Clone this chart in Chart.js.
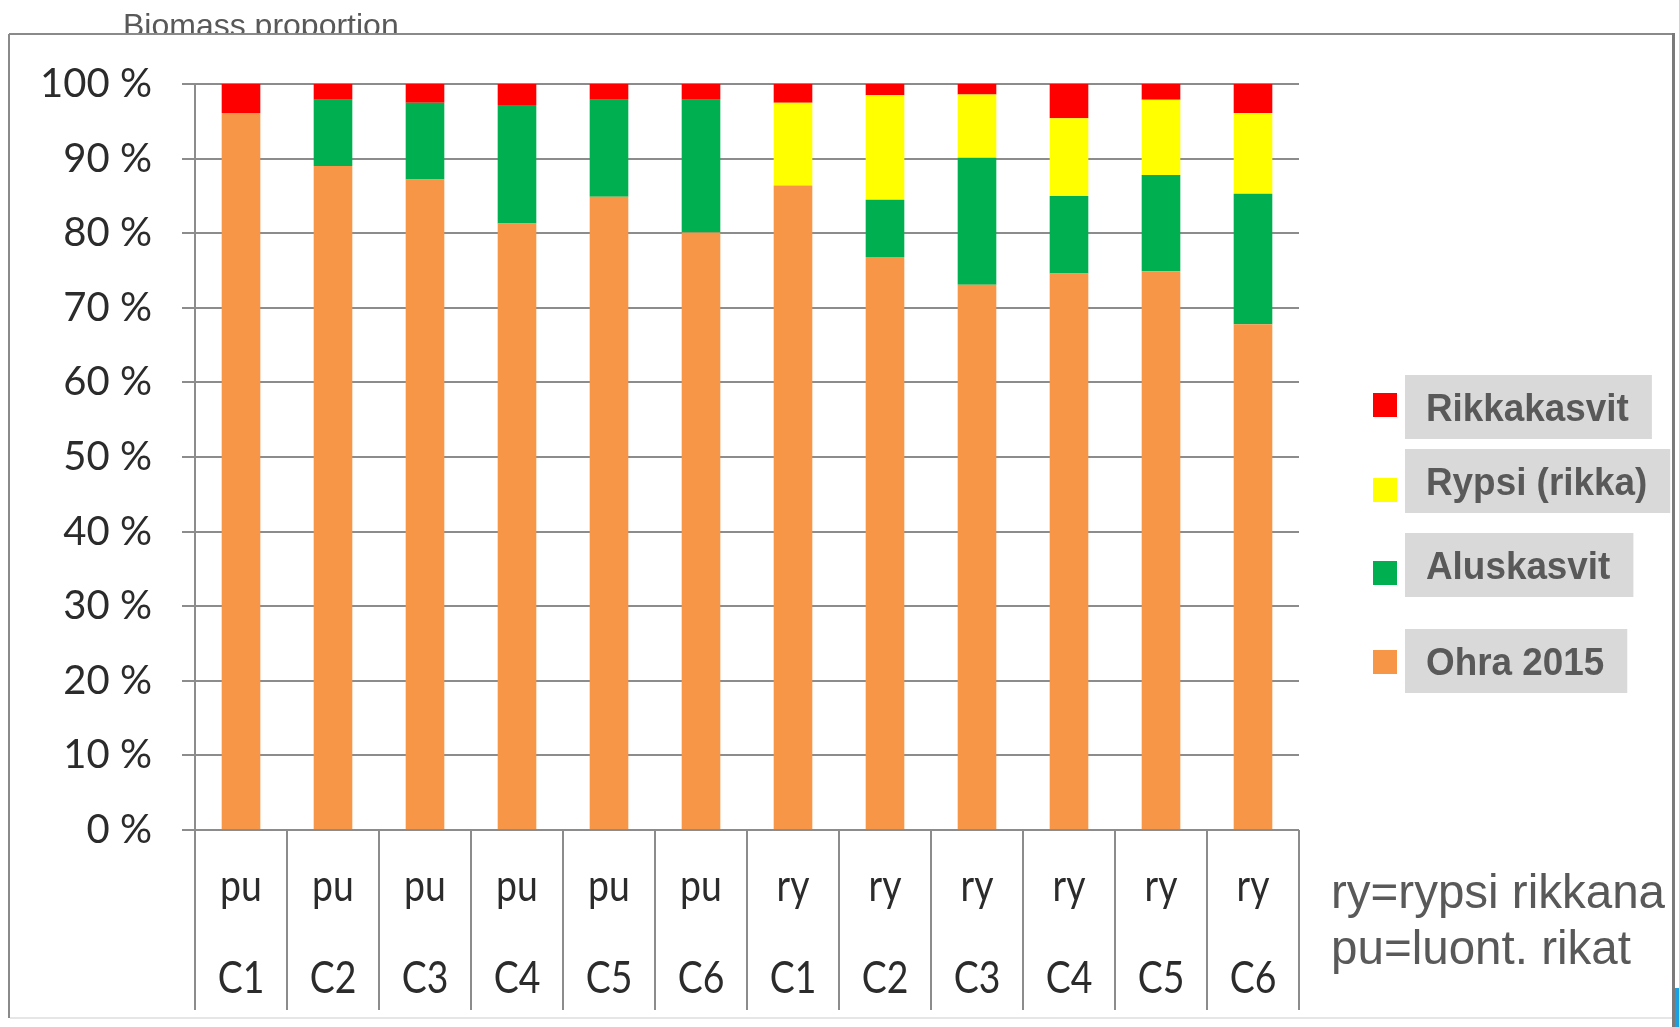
<!DOCTYPE html>
<html>
<head>
<meta charset="utf-8">
<title>Biomass proportion</title>
<script src="https://cdn.jsdelivr.net/npm/chart.js@4.4.1/dist/chart.umd.min.js"></script>
<style>
    html, body { margin: 0; padding: 0; background: #fff; }
    #wrap { position: relative; width: 1679px; height: 1027px; }
</style>
</head>
<body>
<div id="wrap"><canvas id="myChart" width="1679" height="1027"></canvas></div>
<script>
// categories: two-level axis (treatment / plot)
const groups = ['pu', 'pu', 'pu', 'pu', 'pu', 'pu', 'ry', 'ry', 'ry', 'ry', 'ry', 'ry'];
const plots = ['C1', 'C2', 'C3', 'C4', 'C5', 'C6', 'C1', 'C2', 'C3', 'C4', 'C5', 'C6'];

// biomass shares in %
const ohra = [96.1, 89.0, 87.2, 81.3, 84.9, 80.1, 86.4, 76.8, 73.1, 74.6, 74.9, 67.8];
const aluskasvit = [0, 8.9, 10.3, 15.9, 13.0, 17.8, 0, 7.7, 17.0, 10.4, 12.9, 17.5];
const rypsi = [0, 0, 0, 0, 0, 0, 11.1, 14.0, 8.5, 10.4, 10.1, 10.8];
const rikka = [3.9, 2.1, 2.5, 2.8, 2.1, 2.1, 2.5, 1.5, 1.4, 4.6, 2.1, 3.9];

const yTicks = [0, 10, 20, 30, 40, 50, 60, 70, 80, 90, 100];
const notes = ['ry=rypsi rikkana', 'pu=luont. rikat'];

const gridColor = '#8c8c8c';
const textGray = '#595959';

// white slide frame + title that the frame partly covers
const framePlugin = {
    id: 'frame',
    beforeDraw(chart) {
        const ctx = chart.ctx;
        ctx.save();
        ctx.fillStyle = textGray;
        ctx.font = '32px "Liberation Sans", Arial, sans-serif';
        ctx.textBaseline = 'alphabetic';
        ctx.fillText('Biomass proportion', 123, 36);

        ctx.fillStyle = '#fff';
        ctx.fillRect(9, 34, 1664, 984);

        ctx.strokeStyle = '#8a8a8a';
        ctx.lineWidth = 2;
        ctx.beginPath();
        ctx.moveTo(9, 34); ctx.lineTo(1673, 34);
        ctx.moveTo(9, 34); ctx.lineTo(9, 1018);
        ctx.stroke();

        ctx.strokeStyle = '#e6e6e6';
        ctx.beginPath();
        ctx.moveTo(10, 1018); ctx.lineTo(1672, 1018);
        ctx.stroke();

        ctx.strokeStyle = '#7a7a7a';
        ctx.lineWidth = 3;
        ctx.beginPath();
        ctx.moveTo(1673.5, 33); ctx.lineTo(1673.5, 1027);
        ctx.stroke();

        ctx.fillStyle = '#1a9fe0';
        ctx.fillRect(1675, 988, 4, 39);
        ctx.restore();
    }
};

// multi-level category axis, legend with grey label boxes, side note
const extrasPlugin = {
    id: 'extras',
    afterDraw(chart) {
        const ctx = chart.ctx;
        const xs = chart.scales.x;
        const area = chart.chartArea;
        const n = groups.length;
        ctx.save();

        // separators
        ctx.strokeStyle = gridColor;
        ctx.lineWidth = 2;
        ctx.beginPath();
        for (let i = 0; i <= n; i++) {
            let x;
            if (i === 0) x = area.left;
            else if (i === n) x = area.right;
            else x = (xs.getPixelForValue(i - 1) + xs.getPixelForValue(i)) / 2;
            ctx.moveTo(x, area.bottom);
            ctx.lineTo(x, 1010);
        }
        ctx.stroke();

        // labels
        ctx.fillStyle = '#2b2b2b';
        ctx.font = '44px Lato, sans-serif';
        ctx.textAlign = 'center';
        ctx.textBaseline = 'alphabetic';
        for (let i = 0; i < n; i++) {
            const x = xs.getPixelForValue(i);
            const w1 = ctx.measureText(groups[i]).width * 0.85;
            const w2 = ctx.measureText(plots[i]).width * 0.85;
            ctx.fillText(groups[i], x, 901, w1);
            ctx.fillText(plots[i], x, 993, w2);
        }

        // legend (reverse order of stacking)
        const boxTops = [375, 449, 533, 629];
        const markCenters = [405, 490, 573, 662];
        const items = chart.data.datasets.slice().reverse();
        ctx.font = 'bold 38px "Liberation Sans", Arial, sans-serif';
        ctx.textAlign = 'left';
        items.forEach((ds, k) => {
            const tw = ctx.measureText(ds.label).width * 0.97;
            ctx.fillStyle = '#d9d9d9';
            ctx.fillRect(1405, boxTops[k], tw + 44, 64);
            ctx.fillStyle = textGray;
            ctx.fillText(ds.label, 1426, boxTops[k] + 46, tw);
            ctx.fillStyle = ds.backgroundColor;
            ctx.fillRect(1373, markCenters[k] - 12, 24, 24);
        });

        // note
        ctx.fillStyle = textGray;
        ctx.font = '48px "Liberation Sans", Arial, sans-serif';
        ctx.fillText(notes[0], 1331, 908, 334);
        ctx.fillText(notes[1], 1331, 964, 300);
        ctx.restore();
    }
};

const ctx = document.getElementById('myChart');

new Chart(ctx, {
    type: 'bar',
    data: {
        labels: plots.map((p, i) => groups[i] + ' ' + p),
        datasets: [
            { label: 'Ohra 2015', data: ohra, backgroundColor: '#f79646' },
            { label: 'Aluskasvit', data: aluskasvit, backgroundColor: '#00b050' },
            { label: 'Rypsi (rikka)', data: rypsi, backgroundColor: '#ffff00' },
            { label: 'Rikkakasvit', data: rikka, backgroundColor: '#ff0000' }
        ]
    },
    options: {
        responsive: false,
        animation: false,
        devicePixelRatio: 1,
        layout: {
            padding: { left: 0, top: 84, right: 380, bottom: 197 }
        },
        datasets: {
            bar: { barPercentage: 0.42, categoryPercentage: 1, borderWidth: 0 }
        },
        plugins: {
            legend: { display: false },
            tooltip: { enabled: false }
        },
        scales: {
            x: {
                stacked: true,
                display: false
            },
            y: {
                stacked: true,
                min: 0,
                max: 100,
                afterFit(scale) { scale.width = 195; },
                afterBuildTicks(scale) { scale.ticks = yTicks.map(v => ({ value: v })); },
                ticks: {
                    padding: 30,
                    color: '#2b2b2b',
                    font: { family: 'Lato', size: 40 },
                    callback: v => v + ' %'
                },
                grid: {
                    color: gridColor,
                    lineWidth: 2,
                    tickLength: 13,
                    drawTicks: true
                },
                border: { display: true, color: gridColor, width: 2 }
            }
        }
    },
    plugins: [framePlugin, extrasPlugin]
});
</script>
</body>
</html>
